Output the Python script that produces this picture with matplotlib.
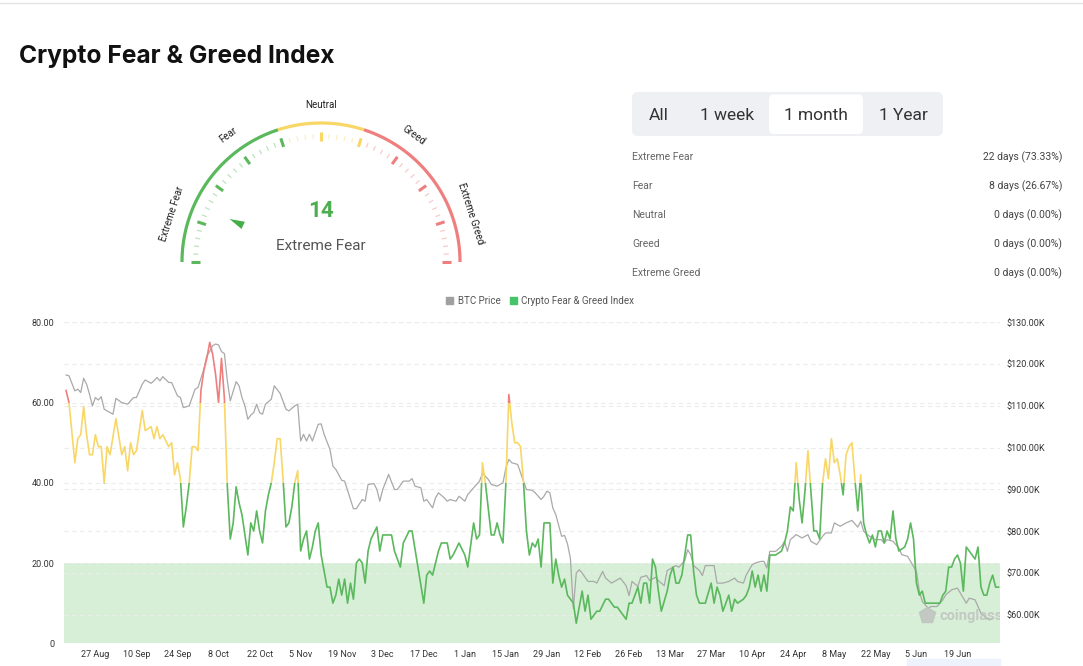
import matplotlib
matplotlib.use("Agg")
import matplotlib.pyplot as plt
from matplotlib.patches import FancyBboxPatch, Rectangle, Polygon
import numpy as np

plt.rcParams['font.family'] = ['Roboto', 'DejaVu Sans']

# ---- data ----
# Fear & Greed index (day number, value)
fg_day = [0, 1, 3, 4, 5, 6, 7, 8, 9, 10, 11, 12, 13, 14, 15, 17, 19, 20, 21, 22, 23, 24, 26, 27,
          29, 30, 31, 32, 33, 35, 36, 37, 38, 39, 40, 41, 42, 43, 44, 45, 46, 47, 48, 49, 50, 51,
          52, 53, 54, 55, 56, 57, 58, 59, 60, 61, 62, 63, 64, 65, 66, 67, 68, 69, 70, 71, 72, 73,
          74, 75, 76, 77, 78, 79, 80, 81, 82, 83, 84, 85, 86, 87, 88, 89, 90, 91, 92, 93, 94, 95,
          96, 97, 98, 99, 100, 101, 102, 103, 104, 106, 107, 108, 111, 112, 114, 115, 117, 118,
          120, 122, 123, 124, 125, 127, 128, 130, 131, 132, 134, 136, 137, 139, 140, 141, 142,
          143, 145, 146, 147, 148, 149, 150, 151, 152, 153, 154, 155, 156, 157, 158, 159, 160,
          161, 162, 163, 165, 166, 167, 168, 169, 170, 171, 173, 174, 176, 177, 178, 179, 181,
          182, 184, 185, 187, 188, 191, 192, 193, 195, 196, 197, 198, 199, 200, 201, 202, 203,
          205, 206, 207, 208, 209, 210, 212, 213, 214, 215, 216, 218, 220, 221, 222, 223, 224,
          226, 227, 228, 229, 231, 232, 233, 234, 235, 236, 237, 238, 239, 240, 242, 244, 245,
          246, 247, 248, 249, 250, 251, 252, 253, 254, 255, 256, 257, 258, 259, 260, 261, 262,
          263, 264, 265, 266, 267, 268, 269, 270, 271, 272, 273, 274, 275, 276, 277, 278, 279,
          280, 281, 282, 283, 284, 286, 287, 288, 289, 290, 291, 292, 293, 295, 296, 298, 299,
          300, 301, 302, 303, 304, 305, 306, 307, 309, 310, 311, 312, 313, 314, 315, 316, 317, 318]
fg_val = [63, 60, 45, 51, 52, 59, 52, 47, 47, 52, 49, 49, 40, 49, 47, 56, 47, 49, 43, 50, 47, 48, 58, 53,
          54, 51, 54, 51, 52, 49, 50, 42, 45, 41, 29, 34, 40, 49, 49, 48, 63, 68, 71, 75, 72, 67,
          60, 71, 61, 39, 26, 30, 39, 35, 32, 27, 22, 30, 28, 33, 28, 25, 33, 37, 40, 45, 51, 51,
          41, 29, 30, 34, 40, 43, 23, 26, 28, 21, 24, 28, 30, 22, 18, 14, 14, 10, 12, 16, 12, 16,
          10, 15, 11, 20, 21, 20, 15, 23, 26, 29, 23, 27, 27, 23, 19, 25, 28, 28,
          19, 10, 17, 18, 17, 23, 25, 25, 21, 22, 25, 22, 19, 30, 26, 27, 45,
          40, 27, 27, 30, 27, 25, 40, 62, 55, 50, 50, 49, 40, 28, 22, 25, 24,
          26, 19, 30, 30, 15, 21, 17, 14, 16, 12, 10, 5, 13, 8, 12, 6, 8,
          8, 11, 11, 9, 9, 6, 10, 10, 14, 10, 15, 15, 10, 21, 19, 13, 8,
          13, 17, 19, 15, 15, 17, 27, 27, 18, 12, 10, 10, 15, 10, 14, 12, 8,
          12, 8, 11, 10, 11, 12, 14, 18, 14, 17, 13, 17, 13, 22, 22, 23, 25,
          28, 34, 33, 45, 36, 30, 38, 48, 38, 28, 28, 26, 40, 46, 41, 51, 45,
          46, 42, 37, 47, 49, 50, 41, 33, 42, 30, 27, 25, 27, 24, 28, 28, 25,
          28, 26, 33, 26, 23, 24, 26, 30, 26, 15, 12, 13, 10, 10, 10, 10, 12,
          13, 19, 19, 21, 22, 20, 13, 24, 22, 21, 24, 14, 12, 12, 15, 17, 14, 14]

# BTC price in thousand USD (day number, price)
btc_day = [0, 1, 3, 4, 5, 6, 7, 8, 9, 10, 11, 12, 13, 14, 16, 17, 19, 21, 23, 24, 26, 27, 29, 30,
           31, 32, 33, 35, 36, 38, 39, 40, 42, 44, 45, 47, 48, 49, 50, 51, 52, 53, 54, 55, 56, 57,
           58, 59, 60, 61, 62, 63, 64, 65, 66, 67, 68, 70, 71, 73, 75, 76, 78, 79, 80, 81, 82, 83,
           84, 86, 87, 88, 90, 91, 92, 94, 95, 97, 98, 99, 101, 102, 103, 105, 106, 107, 108, 110,
           112, 113, 115, 117, 118, 119, 121, 122, 123, 125, 126, 127, 129, 130, 131, 133, 134,
           136, 137, 139, 141, 142, 144, 145, 147, 149, 150, 151, 152, 154, 155, 157, 159, 160,
           162, 163, 164, 165, 166, 167, 169, 170, 171, 172, 173, 174, 175, 176, 178, 180, 181,
           183, 184, 186, 188, 189, 191, 192, 193, 195, 196, 198, 199, 201, 202, 204, 205, 207,
           208, 209, 211, 212, 213, 214, 216, 217, 218, 221, 222, 224, 226, 228, 229, 231, 232,
           234, 235, 237, 238, 239, 240, 242, 244, 245, 246, 247, 249, 251, 253, 254, 256, 258,
           259, 261, 262, 264, 266, 268, 270, 271, 272, 274, 276, 278, 279, 280, 282, 284, 285,
           287, 288, 290, 291, 292, 294, 295, 297, 299, 300, 302, 304, 305, 307, 308, 310, 311,
           312, 314, 315, 316]
btc_price = [117.4, 117.2, 113.6, 114.0, 113.2, 116.6, 115.2, 112.8, 110.0, 112.0, 111.4, 112.2, 109.2,
             108.8, 108.0, 111.8, 110.8, 110.4, 112.0, 112.0, 115.2, 116.2, 115.4, 116.0,
             116.8, 116.0, 117.0, 115.6, 115.6, 112.4, 112.0, 109.6, 110.0, 114.0, 114.4, 118.8,
             122.0, 123.0, 124.4, 124.8, 124.6, 123.0, 122.5, 116.0, 111.2, 113.5,
             115.8, 114.8, 112.0, 110.0, 106.8, 107.8, 108.4, 110.4, 108.4, 108.0, 110.4, 111.6,
             114.8, 113.0, 109.2, 108.8, 110.0, 110.4, 101.6, 103.2, 101.6, 103.2,
             101.6, 105.6, 105.7, 103.2, 99.6, 95.6, 94.8, 92.2, 92.0, 87.6, 85.4, 85.4, 87.6,
             87.2, 91.2, 91.4, 90.0, 87.2, 90.0, 93.6,
             90.0, 90.0, 92.0, 92.0, 92.6, 90.8, 90.4, 87.2, 87.6, 85.6, 88.0, 89.2, 88.0, 87.2,
             87.6, 87.2, 88.4,
             87.2, 88.8, 90.4, 92.0, 93.9, 92.4, 91.2, 90.8, 91.6, 95.2, 97.2, 96.4, 96.0, 94.0,
             90.0, 89.8, 89.2,
             87.6, 88.4, 89.6, 89.2, 85.6, 84.0, 78.8, 79.0, 77.0, 73.5, 61.6, 70.0, 70.8, 70.0,
             68.0, 68.0, 67.6,
             70.4, 68.8, 67.6, 68.4, 68.8, 67.0, 64.6, 68.0, 66.8, 69.0, 69.4, 68.2, 69.0, 68.2,
             67.0, 70.6, 71.4,
             71.8, 71.4, 73.0, 75.6, 74.4, 71.8, 70.6, 69.4, 71.8, 71.8, 67.6, 67.6, 68.0, 68.8,
             68.0, 67.6, 69.6,
             72.0, 72.4, 72.8, 72.8, 71.2, 75.2, 75.2, 76.4, 77.6, 75.2, 78.0, 79.2, 78.4, 79.2,
             77.6, 76.8, 78.8,
             79.6, 79.6, 82.0, 81.2, 82.0, 82.6, 81.0, 82.4, 80.0, 78.8, 78.0, 78.0, 77.2, 78.0,
             77.6, 76.0, 74.4,
             74.0, 72.8, 70.4, 65.6, 63.2, 61.6, 62.0, 62.0, 63.6, 64.8, 66.0, 66.4, 65.2, 62.8,
             64.0, 63.6, 62.0,
             60.4, 59.2, 58.8, 59.2]

tick_labels = ['27 Aug', '10 Sep', '24 Sep', '8 Oct', '22 Oct', '5 Nov', '19 Nov', '3 Dec',
               '17 Dec', '1 Jan', '15 Jan', '29 Jan', '12 Feb', '26 Feb', '13 Mar', '27 Mar',
               '10 Apr', '24 Apr', '8 May', '22 May', '5 Jun', '19 Jun']
tick_days = [10 + 14 * k for k in range(len(tick_labels))]

gauge_value = 14
gauge_label = 'Extreme Fear'
zone_names = ['Extreme Fear', 'Fear', 'Neutral', 'Greed', 'Extreme Greed']
zone_days = [22, 8, 0, 0, 0]
zone_pct = [73.33, 26.67, 0.00, 0.00, 0.00]
periods = ['All', '1 week', '1 month', '1 Year']
period_x = [659, 727, 816, 903]

GREEN = '#5bb85d'
YELLOW = '#f8d767'
RED = '#ef7f7f'
GRAY = '#a9a9a9'

fig = plt.figure(figsize=(10.83, 6.66), dpi=100)

# background axes in pixel coordinates
bg = fig.add_axes([0, 0, 1, 1])
bg.set_xlim(0, 1083)
bg.set_ylim(666, 0)
bg.axis('off')

bg.plot([0, 1083], [3, 3], color='#e4e4e4', lw=1)
bg.text(19, 57, 'Crypto Fear & Greed Index', fontsize=17.7, weight='bold',
        family=['Inter', 'DejaVu Sans'], color='#111111', va='center', ha='left')

# ---- gauge ----
cx, cy, R = 321, 262, 139


def pol(v, r):
    th = np.radians(180 - 1.8 * np.asarray(v))
    return cx + r * np.cos(th), cy - r * np.sin(th)


for v0, v1, col in [(0, 40, GREEN), (40, 60, YELLOW), (60, 100, RED)]:
    xs, ys = pol(np.linspace(v0, v1, 80), R)
    bg.plot(xs, ys, color=col, lw=2.3, solid_capstyle='butt')

for v in range(0, 101, 2):
    col = GREEN if v <= 40 else (YELLOW if v <= 60 else RED)
    if v % 10 == 0:
        x0, y0 = pol(v, 121)
        x1, y1 = pol(v, 130)
        bg.plot([x0, x1], [y0, y1], color=col, lw=2.2, solid_capstyle='butt')
    else:
        x0, y0 = pol(v, 123)
        x1, y1 = pol(v, 128)
        bg.plot([x0, x1], [y0, y1], color=col, lw=0.9, alpha=0.4, solid_capstyle='butt')

for name, v in zip(zone_names, [10, 30, 50, 70, 90]):
    x, y = pol(v, 157)
    bg.text(x, y, name, fontsize=7, color='#222222', ha='center', va='center',
            rotation=(180 - 1.8 * v) - 90, rotation_mode='anchor')

# needle pointer (small triangle pointing outward)
th = np.radians(180 - 1.8 * gauge_value)
d = np.array([np.cos(th), -np.sin(th)])
n = np.array([np.sin(th), np.cos(th)])
c = np.array([cx, cy])
tip = c + d * 101
b1 = c + d * 86 + n * 4
b2 = c + d * 86 - n * 4
bg.add_patch(Polygon([tip, b1, b2], closed=True, color='#47ad4a', lw=0))

bg.text(cx, 211, str(gauge_value), fontsize=16, weight='bold', color='#4cae4f',
        ha='center', va='center')
bg.text(cx, 246, gauge_label, fontsize=11, color='#555555', ha='center', va='center')

# ---- period selector and stats ----
bg.add_patch(FancyBboxPatch((632, 92), 311, 44, boxstyle='round,pad=0,rounding_size=6',
                            fc='#eef0f3', ec='none'))
bg.add_patch(FancyBboxPatch((769, 94.5), 94, 39.5, boxstyle='round,pad=0,rounding_size=5',
                            fc='white', ec='none'))
for p, x in zip(periods, period_x):
    bg.text(x, 115, p, fontsize=12.5, color='#333333', ha='center', va='center')

for k, (nm, dd, pc) in enumerate(zip(zone_names, zone_days, zone_pct)):
    y = 157 + 29 * k
    bg.text(632, y, nm, fontsize=7.5, color='#666666', ha='left', va='center')
    bg.text(1062, y, f'{dd} days ({pc:.2f}%)', fontsize=7.5, color='#444444',
            ha='right', va='center')

# legend
bg.add_patch(Rectangle((445.5, 296.5), 7, 7, color='#a0a0a0'))
bg.text(458, 300.5, 'BTC Price', fontsize=7, color='#555555', va='center')
bg.add_patch(Rectangle((509.5, 296.5), 7, 7, color='#45c46a'))
bg.text(521, 300.5, 'Crypto Fear & Greed Index', fontsize=7, color='#555555', va='center')

bg.add_patch(Rectangle((907, 659), 93, 7, color='#edf2fc'))

# ---- main chart ----
ax = fig.add_axes([64 / 1083, (666 - 643.3) / 666, 936 / 1083, 321 / 666])
ax.patch.set_alpha(0)
ax2 = ax.twinx()

ax.axhspan(0, 20, color='#d6efd6', zorder=0, lw=0)
ax.set_xlim(-0.7, 318.5)
ax.set_ylim(0, 80)
ax.set_yticks([0, 20, 40, 60, 80])
ax.set_yticklabels(['0', '20.00', '40.00', '60.00', '80.00'])
ax.set_xticks(tick_days)
ax.set_xticklabels(tick_labels)
ax.yaxis.grid(True, ls=(0, (4, 3)), color='#ececec', lw=0.8)
ax.set_axisbelow(True)

ax2.set_ylim(53.2, 130)
ax2.set_yticks(list(range(60, 131, 10)))
ax2.set_yticklabels([f'${v:.2f}K' for v in range(60, 131, 10)])
ax2.yaxis.grid(True, ls=(0, (4, 3)), color='#ececec', lw=0.8)

for a in (ax, ax2):
    for s in a.spines.values():
        s.set_visible(False)
    a.tick_params(length=0, labelsize=6.5, labelcolor='#333333')
ax.tick_params(axis='y', pad=7)
ax.tick_params(axis='x', pad=5)
ax2.tick_params(axis='y', pad=5)

ax2.plot(btc_day, btc_price, color=GRAY, lw=0.9, zorder=3, solid_joinstyle='round')

# fear & greed line on the price axis, coloured by zone via clipping
k = (130 - 53.2) / 80
for lo, hi, col in [(0, 40, GREEN), (40, 60, YELLOW), (60, 100, RED)]:
    ln, = ax2.plot(fg_day, np.array(fg_val) * k + 53.2, color=col, lw=1.2, zorder=4,
                   solid_joinstyle='round')
    clip = Rectangle((-10, lo * k + 53.2), 400, (hi - lo) * k, transform=ax2.transData)
    ln.set_clip_path(clip)

ax2.text(0.9355, 0.085, 'coinglass', transform=ax2.transAxes, fontsize=10.5, weight='bold',
         color='#bfc3bf', alpha=0.85, ha='left', va='center', clip_on=True, zorder=5)
ax2.plot([0.922], [0.088], marker='p', ms=12, color='#bfc3bf', alpha=0.85,
         transform=ax2.transAxes, zorder=5)

fig.savefig('out.png', dpi=100)
